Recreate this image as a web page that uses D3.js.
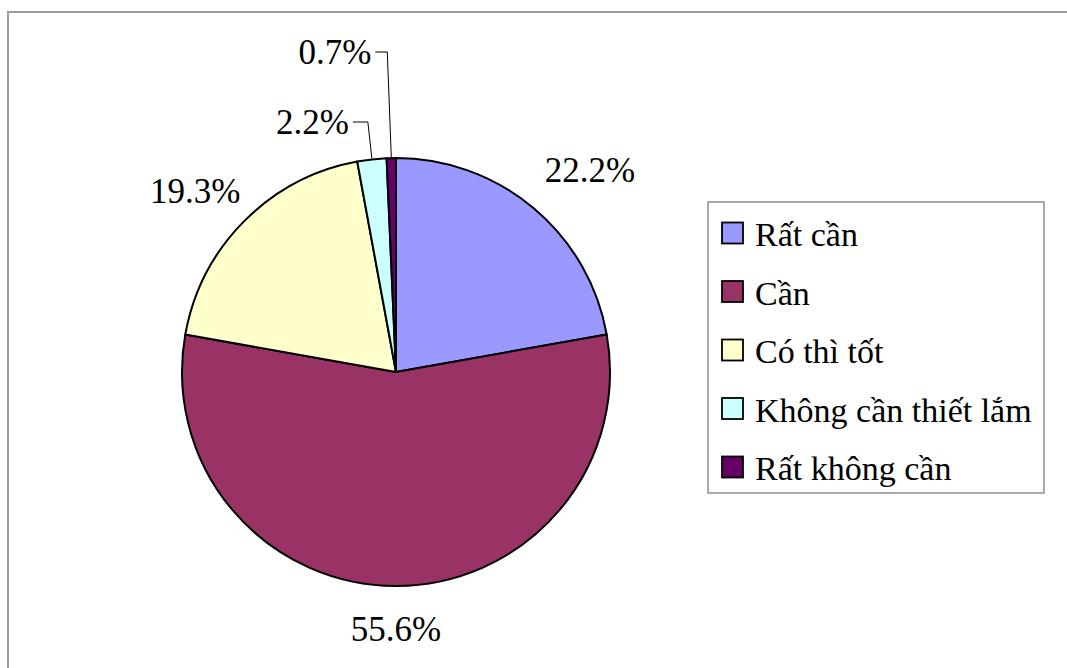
<!DOCTYPE html>
<html>
<head>
<meta charset="utf-8">
<script src="https://cdn.jsdelivr.net/npm/d3@7/dist/d3.min.js"></script>
<style>
  html, body { margin: 0; padding: 0; background: #fff; }
  svg { display: block; }
</style>
</head>
<body>
<svg id="chart" width="1067" height="668"></svg>
<script>
// Survey answers and their shares (%)
const categories = ["Rất cần", "Cần", "Có thì tốt", "Không cần thiết lắm", "Rất không cần"];
const shares = [22.2, 55.6, 19.3, 2.2, 0.7];
const labels = ["22.2%", "55.6%", "19.3%", "2.2%", "0.7%"];
const colors = ["#9999FF", "#993366", "#FFFFCC", "#CCFFFF", "#660066"];

const W = 1067, H = 668;
const cx = 396, cy = 372, R = 214;
const FONT = '"Liberation Serif"';

const svg = d3.select("#chart");

// outer chart frame (top and left edges visible)
svg.append("path")
  .attr("d", `M8,${H} L8,12 L${W},12`)
  .attr("fill", "none")
  .attr("stroke", "#9a9a9a")
  .attr("stroke-width", 2);

const pie = d3.pie().sort(null).value(d => d)
  .startAngle(0).endAngle(2 * Math.PI);
const arcs = pie(shares);

const arc = d3.arc().innerRadius(0).outerRadius(R);
const g = svg.append("g").attr("transform", `translate(${cx},${cy})`);

g.selectAll("path.slice")
  .data(arcs)
  .enter().append("path")
  .attr("class", "slice")
  .attr("d", arc)
  .attr("fill", (d, i) => colors[i])
  .attr("stroke", "#000")
  .attr("stroke-width", 2)
  .attr("stroke-linejoin", "round");

// label placement: big slices sit outside the pie near their mid angle,
// thin slices are lifted above the pie with an elbow leader line
const labelRadius = [280, 257, 270, null, null];
const angleNudge = [3.9, 0, -2.9, 0, 0];      // degrees
const liftTo = [null, null, null, 122, 52];   // y of the elbow for thin slices
const elbowLen = [0, 0, 0, 15, 12];
const fontSize = 35;
const halfDigit = 11.8;                        // baseline shift to centre digits

arcs.forEach((a, i) => {
  const mid = (a.startAngle + a.endAngle) / 2;
  if (labelRadius[i] !== null) {
    const ang = mid + angleNudge[i] * Math.PI / 180;
    const x = Math.sin(ang) * labelRadius[i];
    const y = -Math.cos(ang) * labelRadius[i];
    g.append("text")
      .attr("x", x).attr("y", y + halfDigit)
      .attr("text-anchor", "middle")
      .attr("font-size", fontSize)
      .style("font-family", FONT)
      .text(labels[i]);
  } else {
    const ex = Math.sin(mid) * R;
    const ey = -Math.cos(mid) * R;
    const ty = liftTo[i] - cy;
    const kx = ex - 4;
    const hx = kx - elbowLen[i];
    g.append("path")
      .attr("d", `M${ex},${ey - 1} L${kx},${ty} L${hx},${ty}`)
      .attr("fill", "none")
      .attr("stroke", "#000")
      .attr("stroke-width", 1);
    g.append("text")
      .attr("x", hx - 4).attr("y", ty + halfDigit)
      .attr("text-anchor", "end")
      .attr("font-size", fontSize)
      .style("font-family", FONT)
      .text(labels[i]);
  }
});

// legend
const lg = svg.append("g");
const legX = 708, legY = 202, legW = 336, legH = 291;
lg.append("rect")
  .attr("x", legX).attr("y", legY)
  .attr("width", legW).attr("height", legH)
  .attr("fill", "#fff")
  .attr("stroke", "#707070")
  .attr("stroke-width", 1.2);

const rowY = d3.scalePoint().domain(categories).range([233, 467]);

const items = lg.selectAll("g.item")
  .data(categories)
  .enter().append("g")
  .attr("class", "item")
  .attr("transform", d => `translate(${legX + 14},${rowY(d)})`);

items.append("rect")
  .attr("x", 0).attr("y", -10.5)
  .attr("width", 21).attr("height", 21)
  .attr("fill", (d, i) => colors[i])
  .attr("stroke", "#000")
  .attr("stroke-width", 1.8);

items.append("text")
  .attr("x", 33).attr("y", 13)
  .attr("font-size", 34)
  .style("font-family", FONT)
  .text(d => d);
</script>
</body>
</html>
